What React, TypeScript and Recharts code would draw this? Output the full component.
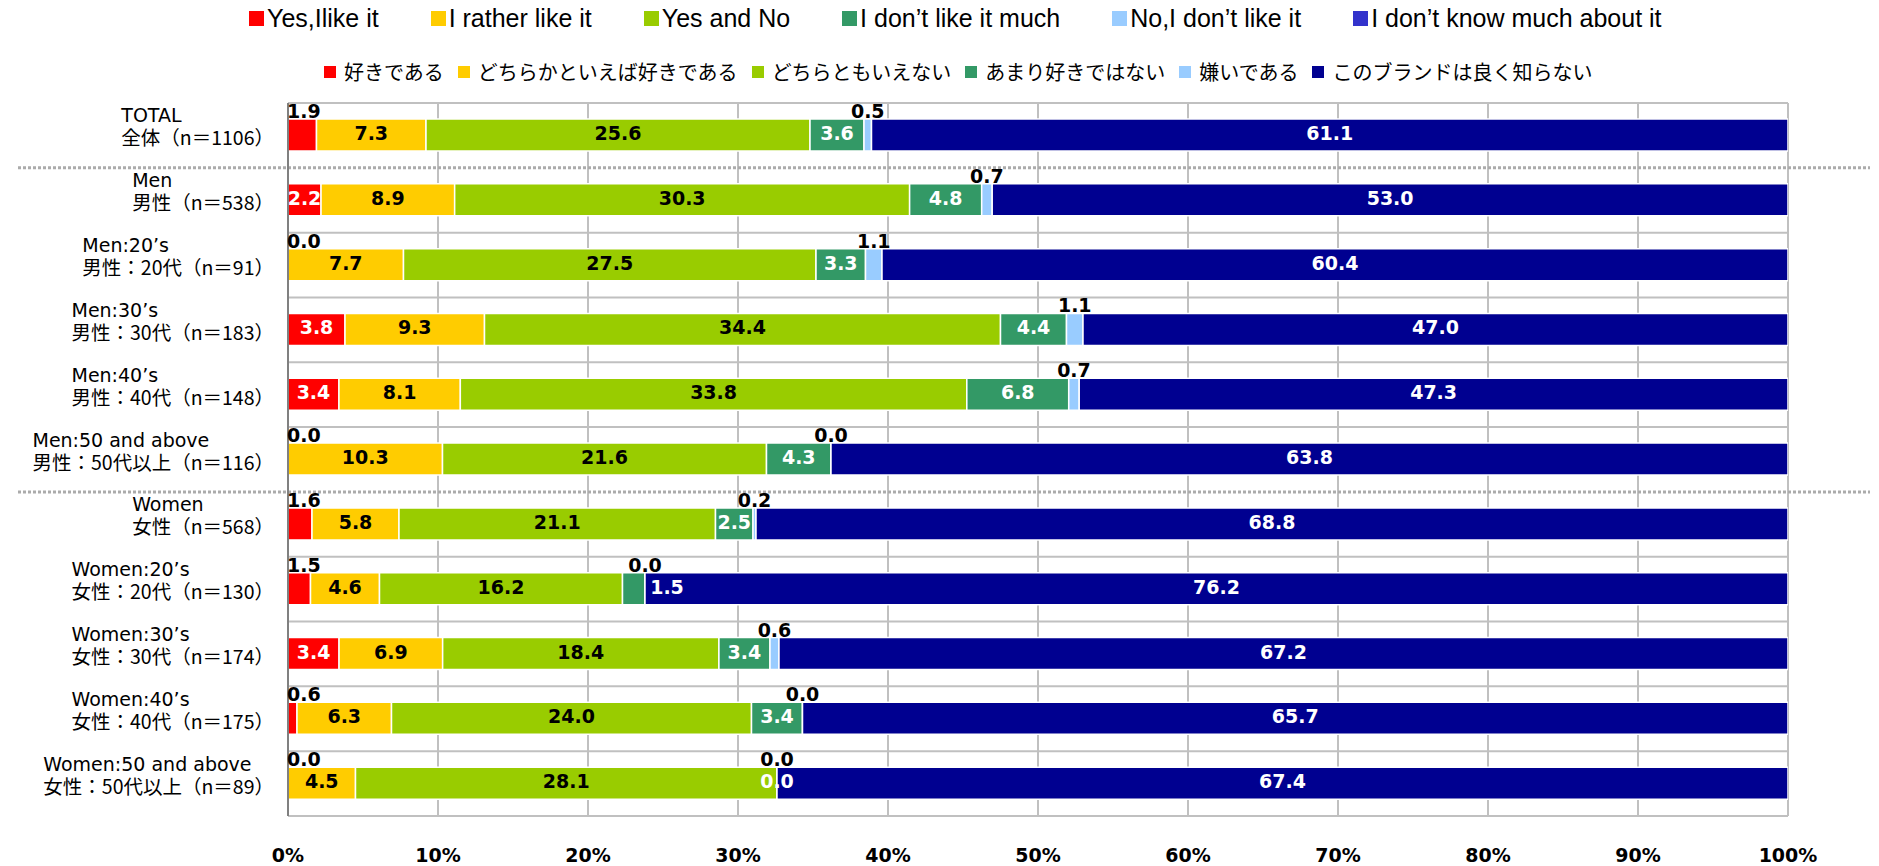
import React from "react";
import { Bar, BarChart, CartesianGrid, LabelList, Legend, XAxis, YAxis } from "recharts";

// Brand liking by gender / age group. 100% stacked horizontal bars in the
// old Excel look: bilingual legend on top, two-line group labels on the left,
// dotted separators between TOTAL / men / women blocks.

const GROUP_EN = [
  "TOTAL",
  "Men",
  "Men:20’s",
  "Men:30’s",
  "Men:40’s",
  "Men:50 and above",
  "Women",
  "Women:20’s",
  "Women:30’s",
  "Women:40’s",
  "Women:50 and above",
];
const GROUP_JA = [
  "全体（n＝1106）",
  "男性（n＝538）",
  "男性：20代（n＝91）",
  "男性：30代（n＝183）",
  "男性：40代（n＝148）",
  "男性：50代以上（n＝116）",
  "女性（n＝568）",
  "女性：20代（n＝130）",
  "女性：30代（n＝174）",
  "女性：40代（n＝175）",
  "女性：50代以上（n＝89）",
];
const SECTION = ["total", "men", "men", "men", "men", "men", "women", "women", "women", "women", "women"];

const LIKE = [1.9, 2.2, 0.0, 3.8, 3.4, 0.0, 1.6, 1.5, 3.4, 0.6, 0.0];
const RATHER_LIKE = [7.3, 8.9, 7.7, 9.3, 8.1, 10.3, 5.8, 4.6, 6.9, 6.3, 4.5];
const NEUTRAL = [25.6, 30.3, 27.5, 34.4, 33.8, 21.6, 21.1, 16.2, 18.4, 24.0, 28.1];
const NOT_MUCH = [3.6, 4.8, 3.3, 4.4, 6.8, 4.3, 2.5, 1.5, 3.4, 3.4, 0.0];
const DISLIKE = [0.5, 0.7, 1.1, 1.1, 0.7, 0.0, 0.2, 0.0, 0.6, 0.0, 0.0];
const UNKNOWN = [61.1, 53.0, 60.4, 47.0, 47.3, 63.8, 68.8, 76.2, 67.2, 65.7, 67.4];

const SERIES_EN = [
  "Yes,Ilike it",
  "I rather like it",
  "Yes and No",
  "I don’t like it much",
  "No,I don’t like it",
  "I don’t know much about it",
];
const SERIES_JA = [
  "好きである",
  "どちらかといえば好きである",
  "どちらともいえない",
  "あまり好きではない",
  "嫌いである",
  "このブランドは良く知らない",
];

const X_TICK_LABELS = ["0%", "10%", "20%", "30%", "40%", "50%", "60%", "70%", "80%", "90%", "100%"];

type LabelMode = "small" | "black" | "white" | "above";

const SERIES: { key: string; values: number[]; fill: string; swatch: string; mode: LabelMode }[] = [
  { key: "like", values: LIKE, fill: "#FF0000", swatch: "#FF0000", mode: "small" },
  { key: "ratherLike", values: RATHER_LIKE, fill: "#FFCC00", swatch: "#FFCC00", mode: "black" },
  { key: "neutral", values: NEUTRAL, fill: "#99CC00", swatch: "#99CC00", mode: "black" },
  { key: "notMuch", values: NOT_MUCH, fill: "#339966", swatch: "#339966", mode: "white" },
  { key: "dislike", values: DISLIKE, fill: "#99CCFF", swatch: "#99CCFF", mode: "above" },
  { key: "unknown", values: UNKNOWN, fill: "#000090", swatch: "#3333CC", mode: "white" },
];

const rows = GROUP_JA.map((group, i) => {
  const row: Record<string, string | number> = { group };
  SERIES.forEach((s) => (row[s.key] = s.values[i]));
  return row;
});

const LABEL_FONT = "'DejaVu Sans', sans-serif";
const JA_FONT = "'Noto Sans CJK JP', sans-serif";
const JA_SIZE = 19.5;

const ctx = typeof document !== "undefined" ? document.createElement("canvas").getContext("2d") : null;
function textWidth(s: string, font: string) {
  if (!ctx) return s.length * 18;
  ctx.font = font;
  return ctx.measureText(s).width;
}

function makeLabel(mode: LabelMode) {
  return (props: any) => {
    const vb = props.viewBox ?? props;
    const x = Number(vb.x ?? props.x);
    const y = Number(vb.y ?? props.y);
    const w = Number(vb.width ?? props.width ?? 0);
    const h = Number(vb.height ?? props.height ?? 0);
    const v = Number(props.value);
    if (!isFinite(x) || !isFinite(v)) return null;
    const text = v.toFixed(1);
    const common = { fontFamily: LABEL_FONT, fontWeight: 700, fontSize: 19 };
    const midY = y + h / 2 + 5;
    if (mode === "small" && v < 2) {
      return (
        <text x={x - 1} y={y - 1} textAnchor="start" fill="#000" {...common}>
          {text}
        </text>
      );
    }
    if (mode === "above") {
      return (
        <text x={x + w / 2} y={y - 1} textAnchor="middle" fill="#000" {...common}>
          {text}
        </text>
      );
    }
    let cx = x + w / 2;
    // tiny non-zero dark-green slice: label sits just past it, on the navy
    if (mode === "white" && v > 0 && w < 30) cx = x + w + 22;
    const fill = mode === "black" ? "#000" : "#fff";
    return (
      <text x={cx} y={midY} textAnchor="middle" fill={fill} {...common}>
        {text}
      </text>
    );
  };
}

function GroupTick({ x, y, payload }: any) {
  const i = GROUP_JA.indexOf(payload.value);
  const endX = x - 14;
  const w = textWidth(payload.value, `${JA_SIZE}px ${JA_FONT}`);
  return (
    <g>
      <text x={endX - w} y={y - 13} fontFamily={LABEL_FONT} fontSize={19} fill="#000">
        {GROUP_EN[i]}
      </text>
      <text x={endX} y={y + 10} textAnchor="end" fontFamily={JA_FONT} fontSize={JA_SIZE} fill="#000">
        {payload.value}
      </text>
    </g>
  );
}

function LegendBlock() {
  return (
    <div style={{ position: "relative", width: 1879, height: 90, color: "#000" }}>
      <div
        style={{
          position: "absolute",
          left: 249,
          top: 4,
          display: "flex",
          alignItems: "center",
          gap: 52,
          fontFamily: "'Liberation Sans', Arial, sans-serif",
          fontSize: 25,
          lineHeight: "28px",
          whiteSpace: "nowrap",
        }}
      >
        {SERIES.map((s, i) => (
          <span key={s.key} style={{ display: "flex", alignItems: "center" }}>
            <span style={{ width: 15, height: 15, background: s.swatch, marginRight: 3 }} />
            {SERIES_EN[i]}
          </span>
        ))}
      </div>
      <div
        style={{
          position: "absolute",
          left: 324,
          top: 62,
          display: "flex",
          alignItems: "center",
          gap: 14,
          fontFamily: JA_FONT,
          fontSize: 20,
          lineHeight: "20px",
          whiteSpace: "nowrap",
        }}
      >
        {SERIES.map((s, i) => (
          <span key={s.key} style={{ display: "flex", alignItems: "center" }}>
            <span style={{ width: 12, height: 12, background: s.fill, marginRight: 8 }} />
            {SERIES_JA[i]}
          </span>
        ))}
      </div>
    </div>
  );
}

const N = GROUP_JA.length;
const isBreak = (i: number) => i > 0 && i < N && SECTION[i] !== SECTION[i - 1];
const bandEdges = (pick: (i: number) => boolean) => ({ offset }: any) =>
  Array.from({ length: N + 1 }, (_, i) => i)
    .filter(pick)
    .map((i) => offset.top + (i * offset.height) / N);

export default function App() {
  return (
    <div style={{ position: "absolute", left: 0, top: 0, width: 1879, height: 866, background: "#fff" }}>
      <BarChart
        width={1879}
        height={866}
        data={rows}
        layout="vertical"
        stackOffset="expand"
        margin={{ top: 103, right: 91, bottom: 0, left: 0 }}
      >
        <CartesianGrid
          stroke="#C0C0C0"
          strokeWidth={2}
          horizontalCoordinatesGenerator={bandEdges((i) => !isBreak(i))}
        />
        <CartesianGrid
          x={18}
          width={1852}
          vertical={false}
          stroke="#ABABAB"
          strokeWidth={3}
          strokeDasharray="3 2"
          horizontalCoordinatesGenerator={bandEdges(isBreak)}
        />
        <XAxis
          type="number"
          domain={[0, 1]}
          allowDataOverflow
          ticks={X_TICK_LABELS.map((_, i) => i / (X_TICK_LABELS.length - 1))}
          tickFormatter={(v: number) => X_TICK_LABELS[Math.round(v * (X_TICK_LABELS.length - 1))]}
          axisLine={false}
          tickLine={false}
          tickSize={0}
          tickMargin={33}
          height={50}
          tick={{ fill: "#000", fontFamily: LABEL_FONT, fontWeight: 700, fontSize: 19 }}
        />
        <XAxis
          xAxisId="top"
          orientation="top"
          type="number"
          domain={[0, 1]}
          allowDataOverflow
          tick={false}
          tickLine={false}
          height={0}
          axisLine={{ stroke: "#808080", strokeWidth: 2 }}
        />
        <YAxis
          type="category"
          dataKey="group"
          width={288}
          tickLine={false}
          tickSize={0}
          tickMargin={0}
          interval={0}
          axisLine={{ stroke: "#808080", strokeWidth: 2 }}
          tick={<GroupTick />}
        />
        <Legend
          layout="horizontal"
          verticalAlign="middle"
          align="center"
          wrapperStyle={{ top: 0, left: 0, width: 1879 }}
          content={() => <LegendBlock />}
        />
        {SERIES.map((s, i) => (
          <Bar
            key={s.key}
            dataKey={s.key}
            name={SERIES_EN[i]}
            stackId="a"
            fill={s.fill}
            stroke="#fff"
            strokeWidth={1.5}
            barSize={32}
            minPointSize={0.01}
            isAnimationActive={false}
          >
            <LabelList dataKey={s.key} content={makeLabel(s.mode)} />
          </Bar>
        ))}
      </BarChart>
    </div>
  );
}
